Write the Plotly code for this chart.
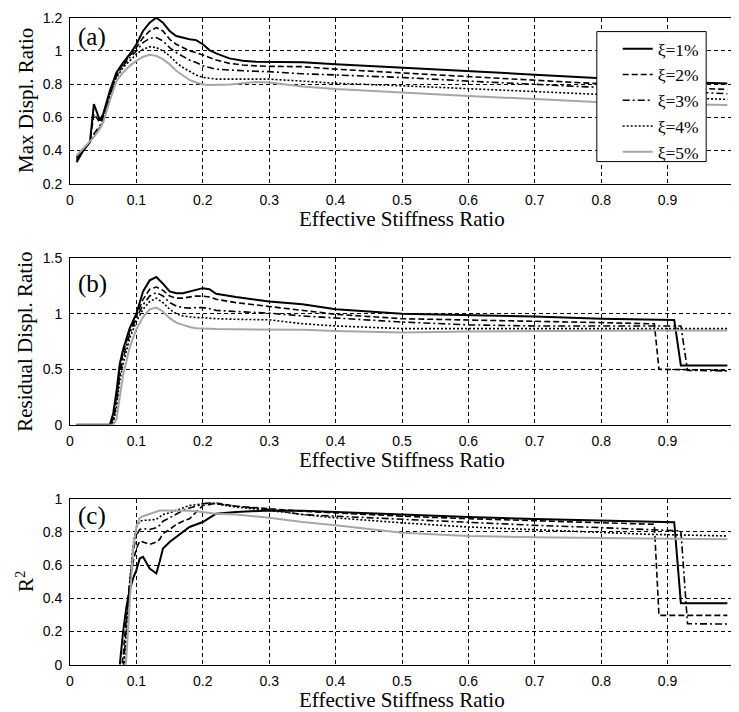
import plotly.graph_objects as go

# ---------------- data ----------------
series_names = ["ξ=1%", "ξ=2%", "ξ=3%", "ξ=4%", "ξ=5%"]

# Panel (a): Max Displ. Ratio
xa = [0.01, 0.02, 0.03, 0.036, 0.045, 0.05, 0.06, 0.07, 0.08, 0.09, 0.1, 0.11, 0.12, 0.13,
      0.14, 0.15, 0.16, 0.17, 0.18, 0.19, 0.2, 0.21, 0.22, 0.24, 0.26, 0.28, 0.3, 0.35, 0.4,
      0.5, 0.6, 0.7, 0.8, 0.9, 0.99]
a_1 = [0.33, 0.40, 0.45, 0.68, 0.58, 0.62, 0.76, 0.87, 0.93, 0.98, 1.04, 1.12, 1.17, 1.20,
       1.17, 1.12, 1.09, 1.08, 1.07, 1.065, 1.04, 1.005, 0.985, 0.955, 0.94, 0.935, 0.933, 0.932, 0.92,
       0.90, 0.877, 0.857, 0.835, 0.815, 0.803]
a_2 = [0.34, 0.40, 0.45, 0.62, 0.57, 0.61, 0.75, 0.86, 0.92, 0.97, 1.02, 1.08, 1.12, 1.14,
       1.12, 1.07, 1.04, 1.02, 1.0, 0.99, 0.975, 0.96, 0.945, 0.925, 0.915, 0.91, 0.907, 0.905, 0.89,
       0.867, 0.845, 0.822, 0.798, 0.78, 0.768]
a_3 = [0.35, 0.41, 0.45, 0.50, 0.55, 0.59, 0.73, 0.85, 0.91, 0.96, 1.0, 1.05, 1.075, 1.08,
       1.06, 1.02, 0.99, 0.965, 0.945, 0.93, 0.91, 0.9, 0.89, 0.885, 0.88, 0.877, 0.875, 0.862, 0.855,
       0.84, 0.818, 0.8, 0.78, 0.76, 0.742]
a_4 = [0.36, 0.41, 0.45, 0.49, 0.54, 0.58, 0.72, 0.84, 0.90, 0.94, 0.98, 1.01, 1.025, 1.02,
       1.0, 0.97, 0.93, 0.9, 0.875, 0.855, 0.84, 0.835, 0.83, 0.83, 0.83, 0.832, 0.83, 0.818, 0.805,
       0.79, 0.772, 0.755, 0.738, 0.72, 0.708]
a_5 = [0.37, 0.41, 0.45, 0.48, 0.53, 0.57, 0.70, 0.82, 0.87, 0.91, 0.94, 0.965, 0.977, 0.97,
       0.95, 0.92, 0.88, 0.85, 0.825, 0.81, 0.798, 0.795, 0.795, 0.798, 0.805, 0.812, 0.81, 0.785, 0.77,
       0.748, 0.728, 0.71, 0.69, 0.68, 0.674]

# Panel (b): Residual Displ. Ratio (common part, then individual tails)
xb = [0.01, 0.06, 0.065, 0.07, 0.075, 0.08, 0.09, 0.1, 0.11, 0.12, 0.13, 0.14, 0.15, 0.16,
      0.17, 0.18, 0.19, 0.2, 0.21, 0.22, 0.25, 0.3, 0.35, 0.4, 0.5, 0.6, 0.7, 0.8, 0.87]
b_1 = [0, 0, 0.1, 0.3, 0.55, 0.68, 0.87, 1.0, 1.2, 1.3, 1.33, 1.27, 1.2, 1.185,
       1.185, 1.2, 1.22, 1.23, 1.22, 1.18, 1.15, 1.11, 1.085, 1.04, 1.0, 0.99, 0.975, 0.955, 0.945]
b_2 = [0, 0, 0.05, 0.25, 0.5, 0.65, 0.85, 0.98, 1.13, 1.22, 1.24, 1.21, 1.16, 1.14,
       1.14, 1.15, 1.16, 1.158, 1.15, 1.13, 1.1, 1.065, 1.03, 0.995, 0.955, 0.945, 0.935, 0.92, 0.91]
b_3 = [0, 0, 0.03, 0.2, 0.45, 0.6, 0.82, 0.96, 1.08, 1.16, 1.19, 1.16, 1.1, 1.07,
       1.055, 1.05, 1.055, 1.055, 1.045, 1.03, 1.02, 1.005, 0.98, 0.96, 0.925, 0.9, 0.89, 0.89, 0.89]
b_4 = [0, 0, 0.02, 0.15, 0.4, 0.55, 0.78, 0.93, 1.04, 1.11, 1.14, 1.1, 1.04, 1.0,
       0.98, 0.97, 0.965, 0.964, 0.96, 0.955, 0.95, 0.945, 0.91, 0.89, 0.866, 0.865, 0.865, 0.865, 0.865]
b_5 = [0, 0, 0, 0.05, 0.25, 0.45, 0.7, 0.86, 0.97, 1.04, 1.055, 1.02, 0.96, 0.92,
       0.9, 0.88, 0.87, 0.866, 0.864, 0.862, 0.86, 0.86, 0.855, 0.845, 0.83, 0.84, 0.845, 0.848, 0.85]
b_tail_x = [[0.91, 0.92, 0.99], [0.88, 0.887, 0.99], [0.92, 0.93, 0.99], [0.99], [0.99]]
b_tail_y = [[0.943, 0.533, 0.533], [0.91, 0.50, 0.49], [0.89, 0.49, 0.485], [0.866], [0.85]]

# Panel (c): R^2
xc = [0.075, 0.08, 0.085, 0.09, 0.095, 0.1, 0.105, 0.11, 0.12, 0.13, 0.135, 0.14, 0.15, 0.16,
      0.17, 0.18, 0.19, 0.2, 0.21, 0.22, 0.25, 0.3, 0.35, 0.4, 0.5, 0.6, 0.7, 0.8, 0.87]
c_1 = [0, 0.2, 0.35, 0.45, 0.52, 0.57, 0.64, 0.65, 0.58, 0.55, 0.62, 0.70, 0.74, 0.77,
       0.80, 0.83, 0.845, 0.86, 0.885, 0.91, 0.92, 0.93, 0.928, 0.92, 0.905, 0.89, 0.878, 0.868, 0.862]
c_2 = [-0.1, 0.05, 0.3, 0.5, 0.62, 0.7, 0.745, 0.74, 0.725, 0.74, 0.755, 0.79, 0.815, 0.845,
       0.865, 0.88, 0.92, 0.96, 0.965, 0.975, 0.955, 0.94, 0.925, 0.915, 0.895, 0.88, 0.868, 0.855, 0.846]
c_3 = [-0.2, -0.05, 0.25, 0.5, 0.68, 0.78, 0.815, 0.82, 0.815, 0.826, 0.84, 0.865, 0.885, 0.91,
       0.93, 0.945, 0.955, 0.97, 0.975, 0.97, 0.955, 0.935, 0.905, 0.895, 0.876, 0.855, 0.84, 0.826, 0.815]
c_4 = [-0.3, -0.1, 0.2, 0.5, 0.72, 0.83, 0.865, 0.87, 0.872, 0.876, 0.89, 0.905, 0.915, 0.93,
       0.945, 0.96, 0.965, 0.97, 0.975, 0.97, 0.95, 0.93, 0.905, 0.885, 0.855, 0.83, 0.812, 0.796, 0.786]
c_5 = [-0.4, -0.2, 0.05, 0.4, 0.7, 0.83, 0.885, 0.895, 0.91, 0.925, 0.929, 0.93, 0.93, 0.93,
       0.93, 0.928, 0.925, 0.92, 0.912, 0.91, 0.905, 0.885, 0.86, 0.84, 0.795, 0.775, 0.768, 0.762, 0.76]
c_tail_x = [[0.91, 0.92, 0.99], [0.88, 0.887, 0.99], [0.92, 0.93, 0.99], [0.99], [0.99]]
c_tail_y = [[0.859, 0.371, 0.371], [0.846, 0.297, 0.297], [0.806, 0.247, 0.245], [0.776], [0.756]]

x_ticks = [0, 0.1, 0.2, 0.3, 0.4, 0.5, 0.6, 0.7, 0.8, 0.9, 1]
x_ticklabels = ["0", "0.1", "0.2", "0.3", "0.4", "0.5", "0.6", "0.7", "0.8", "0.9", "1"]
ya_ticks = [0.2, 0.4, 0.6, 0.8, 1.0, 1.2]
ya_ticklabels = ["0.2", "0.4", "0.6", "0.8", "1", "1.2"]
yb_ticks = [0, 0.5, 1.0, 1.5]
yb_ticklabels = ["0", "0.5", "1", "1.5"]
yc_ticks = [0, 0.2, 0.4, 0.6, 0.8, 1.0]
yc_ticklabels = ["0", "0.2", "0.4", "0.6", "0.8", "1"]

# ---------------- styles ----------------
line_styles = [
    dict(color="black", width=2, dash="solid"),
    dict(color="black", width=1.6, dash="6px,3px"),
    dict(color="black", width=1.6, dash="7px,3px,2px,3px"),
    dict(color="black", width=1.6, dash="2px,2px"),
    dict(color="#a6a6a6", width=2, dash="solid"),
]
SERIF = "Liberation Serif"
SANS = "Liberation Sans"

fig = go.Figure()

a_series = [a_1, a_2, a_3, a_4, a_5]
b_series = [b_1, b_2, b_3, b_4, b_5]
c_series = [c_1, c_2, c_3, c_4, c_5]

for i in range(5):
    fig.add_trace(go.Scatter(x=xa, y=a_series[i], mode="lines", name=series_names[i],
                             line=line_styles[i], xaxis="x", yaxis="y", showlegend=True))
for i in range(5):
    fig.add_trace(go.Scatter(x=xb + b_tail_x[i], y=b_series[i] + b_tail_y[i], mode="lines",
                             name=series_names[i], line=line_styles[i], xaxis="x2", yaxis="y2",
                             showlegend=False))
for i in range(5):
    fig.add_trace(go.Scatter(x=xc + c_tail_x[i], y=c_series[i] + c_tail_y[i], mode="lines",
                             name=series_names[i], line=line_styles[i], xaxis="x3", yaxis="y3",
                             showlegend=False))

# Page has an 8px body margin; the figure is sized so that the plot area lands
# at page x 70..738 and y 12..665.
OFF = 8
W, H = 739 - OFF, 712 - OFF
PL, PR, PT, PB = 70, 738, 12, 665          # plot area in page pixels
ML, MR, MT, MB = PL - OFF, 739 - PR, PT - OFF, 712 - PB
PW, PH = PR - PL, PB - PT


def px_x(page_x):
    return (page_x - PL) / PW


def px_y(page_y):
    return 1 - (page_y - PT) / PH


def ydom(top_px, bot_px):
    return [px_y(bot_px), px_y(top_px)]


common_x = dict(range=[0, 1], tickvals=x_ticks, ticktext=x_ticklabels, showgrid=True,
                gridcolor="black", gridwidth=1, griddash="4px,3px", zeroline=False,
                showline=True, linecolor="black", linewidth=1, mirror=True, ticks="",
                tickfont=dict(family=SANS, size=14, color="black"), ticklabelstandoff=3,
                ticklabeloverflow="allow", domain=[0, 1])
common_y = dict(showgrid=True, gridcolor="black", gridwidth=1, griddash="4px,3px",
                zeroline=False, showline=True, linecolor="black", linewidth=1, mirror=True,
                ticks="", tickfont=dict(family=SANS, size=14, color="black"),
                ticklabelstandoff=4, ticklabeloverflow="allow")

fig.update_layout(
    width=W, height=H,
    margin=dict(l=ML, r=MR, t=MT, b=MB),
    paper_bgcolor="white", plot_bgcolor="white",
    xaxis=dict(common_x, anchor="y"),
    xaxis2=dict(common_x, anchor="y2"),
    xaxis3=dict(common_x, anchor="y3"),
    yaxis=dict(common_y, anchor="x", range=[0.2, 1.2], tickvals=ya_ticks,
               ticktext=ya_ticklabels, domain=ydom(12.7, 180)),
    yaxis2=dict(common_y, anchor="x2", range=[0, 1.5], tickvals=yb_ticks,
                ticktext=yb_ticklabels, domain=ydom(255, 423)),
    yaxis3=dict(common_y, anchor="x3", range=[0, 1], tickvals=yc_ticks,
                ticktext=yc_ticklabels, domain=ydom(497.5, 664.7)),
    legend=dict(x=px_x(621), y=px_y(26), xanchor="left", yanchor="top",
                bgcolor="rgba(0,0,0,0)", borderwidth=0,
                font=dict(family=SERIF, size=17.5, color="black"), tracegroupgap=0),
    showlegend=True,
    shapes=[dict(type="rect", xref="paper", yref="paper", x0=px_x(600), x1=px_x(710),
                 y0=px_y(157.7), y1=px_y(26.7), line=dict(color="black", width=1),
                 fillcolor="white", layer="above")],
)

annotations = []
ytitles = ["Max Displ. Ratio", "Residual Displ. Ratio", "R<sup>2</sup>"]
labels = ["(a)", "(b)", "(c)"]
label_y = [0.885, 0.845, 0.895]
axis_suffix = ["", "2", "3"]
for k in range(3):
    s = axis_suffix[k]
    annotations.append(dict(text="Effective Stiffness Ratio", xref=f"x{s} domain",
                            yref=f"y{s} domain", x=0.5, y=-0.21, xanchor="center",
                            yanchor="middle", showarrow=False,
                            font=dict(family=SERIF, size=21, color="black")))
    annotations.append(dict(text=ytitles[k], xref=f"x{s} domain", yref=f"y{s} domain",
                            x=px_x(25), y=0.5, xanchor="center",
                            yanchor="middle", textangle=-90, showarrow=False,
                            font=dict(family=SERIF, size=21, color="black")))
    annotations.append(dict(text=labels[k], xref=f"x{s} domain", yref=f"y{s} domain",
                            x=0.009, y=label_y[k], xanchor="left", yanchor="middle",
                            showarrow=False, font=dict(family=SERIF, size=25, color="black")))
fig.update_layout(annotations=annotations)

fig.write_html("out.html")
